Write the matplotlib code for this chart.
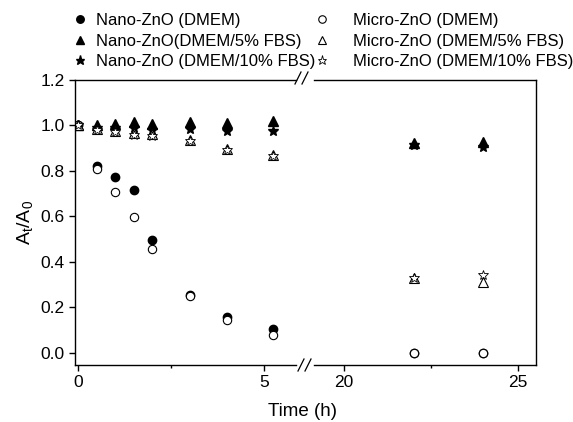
import matplotlib
matplotlib.use("Agg")
import matplotlib.pyplot as plt
from matplotlib.lines import Line2D

plt.rcParams['font.family'] = ['Liberation Sans', 'DejaVu Sans']
plt.rcParams['mathtext.fontset'] = 'custom'
plt.rcParams['mathtext.rm'] = 'Liberation Sans'
plt.rcParams['mathtext.it'] = 'Liberation Sans'

# time points (h)
time = [0, 0.5, 1, 1.5, 2, 3, 4, 5.25, 22, 24]

nano_dmem = [1.0, 0.82, 0.773, 0.717, 0.495, 0.255, 0.157, 0.103, 0.0, 0.0]
nano_fbs5 = [1.0, 1.003, 1.007, 1.013, 1.005, 1.015, 1.01, 1.018, 0.921, 0.925]
nano_fbs10 = [1.0, 0.99, 0.988, 0.99, 0.982, 0.983, 0.975, 0.975, 0.915, 0.905]
micro_dmem = [1.0, 0.81, 0.707, 0.595, 0.457, 0.248, 0.145, 0.075, 0.0, 0.0]
micro_fbs5 = [1.0, 0.985, 0.977, 0.968, 0.962, 0.937, 0.895, 0.87, 0.33, 0.31]
micro_fbs10 = [1.0, 0.978, 0.97, 0.96, 0.953, 0.93, 0.89, 0.865, 0.33, 0.34]

labels_nano = ['Nano-ZnO (DMEM)', 'Nano-ZnO(DMEM/5% FBS)', 'Nano-ZnO (DMEM/10% FBS)']
labels_micro = ['Micro-ZnO (DMEM)', 'Micro-ZnO (DMEM/5% FBS)', 'Micro-ZnO (DMEM/10% FBS)']

W, H = 573, 422
fig = plt.figure(figsize=(W / 100, H / 100), dpi=100)

def px(x0, y0, x1, y1):
    return [x0 / W, 1 - y1 / H, (x1 - x0) / W, (y1 - y0) / H]

ax1 = fig.add_axes(px(75, 80, 305, 365))
ax2 = fig.add_axes(px(305, 80, 536, 365))

series = [
    (nano_dmem, dict(marker='o', mfc='black', mec='black', ms=6)),
    (nano_fbs5, dict(marker='^', mfc='black', mec='black', ms=6.5)),
    (nano_fbs10, dict(marker='*', mfc='black', mec='black', ms=7.5)),
    (micro_dmem, dict(marker='o', mfc='white', mec='black', ms=6, mew=0.8)),
    (micro_fbs5, dict(marker='^', mfc='white', mec='black', ms=6.5, mew=0.8)),
    (micro_fbs10, dict(marker='*', mfc='white', mec='black', ms=7.5, mew=0.6)),
]

handles = []
for vals, st in series:
    for ax in (ax1, ax2):
        h, = ax.plot(time, vals, ls='none', **st)
    handles.append(h)

ax1.set_xlim(-0.08, 6.1)
ax2.set_xlim(18.88, 25.52)
for ax in (ax1, ax2):
    ax.set_ylim(-0.055, 1.2)
    ax.tick_params(direction='out', labelsize=12.5, length=4, width=1)
    ax.tick_params(which='minor', direction='out', length=2.5, width=1)
    for s in ax.spines.values():
        s.set_linewidth(1)

ax1.set_xticks([0, 5])
ax1.set_xticks([2.5], minor=True)
ax1.set_yticks([0.0, 0.2, 0.4, 0.6, 0.8, 1.0, 1.2])
ax1.set_yticklabels(['0.0', '0.2', '0.4', '0.6', '0.8', '1.0', '1.2'])
ax1.spines['right'].set_visible(False)
ax1.spines['top'].set_bounds(-0.08, 5.85)
ax1.spines['bottom'].set_bounds(-0.08, 5.85)
ax1.set_ylabel(r'A$_t$/A$_0$', fontsize=14, labelpad=4)

ax2.set_xticks([20, 25])
ax2.set_xticks([22.5], minor=True)
ax2.set_yticks([])
ax2.spines['left'].set_visible(False)
ax2.spines['top'].set_bounds(19.15, 25.52)
ax2.spines['bottom'].set_bounds(19.15, 25.52)

fig.text(302 / W, 1 - 411 / H, 'Time (h)', ha='center', va='center', fontsize=13.5)

# break marks
for xc, yc in ((302, 78), (305, 365)):
    for dx in (-4, 3):
        x0 = xc + dx - 3
        fig.add_artist(Line2D([x0 / W, (x0 + 6) / W], [1 - (yc + 6) / H, 1 - (yc - 6) / H],
                              color='black', lw=0.9))

leg1 = fig.legend(handles[:3], labels_nano, loc='upper left', bbox_to_anchor=(63 / W, 1 - 5 / H),
                  frameon=False, fontsize=12, handlelength=1.0, handletextpad=0.5,
                  labelspacing=0.33, borderpad=0, markerscale=0.9)
leg2 = fig.legend(handles[3:], labels_micro, loc='upper left', bbox_to_anchor=(305 / W, 1 - 5 / H),
                  frameon=False, fontsize=12, handlelength=1.0, handletextpad=1.4,
                  labelspacing=0.33, borderpad=0, markerscale=0.9)

fig.savefig('out.png', dpi=100)
